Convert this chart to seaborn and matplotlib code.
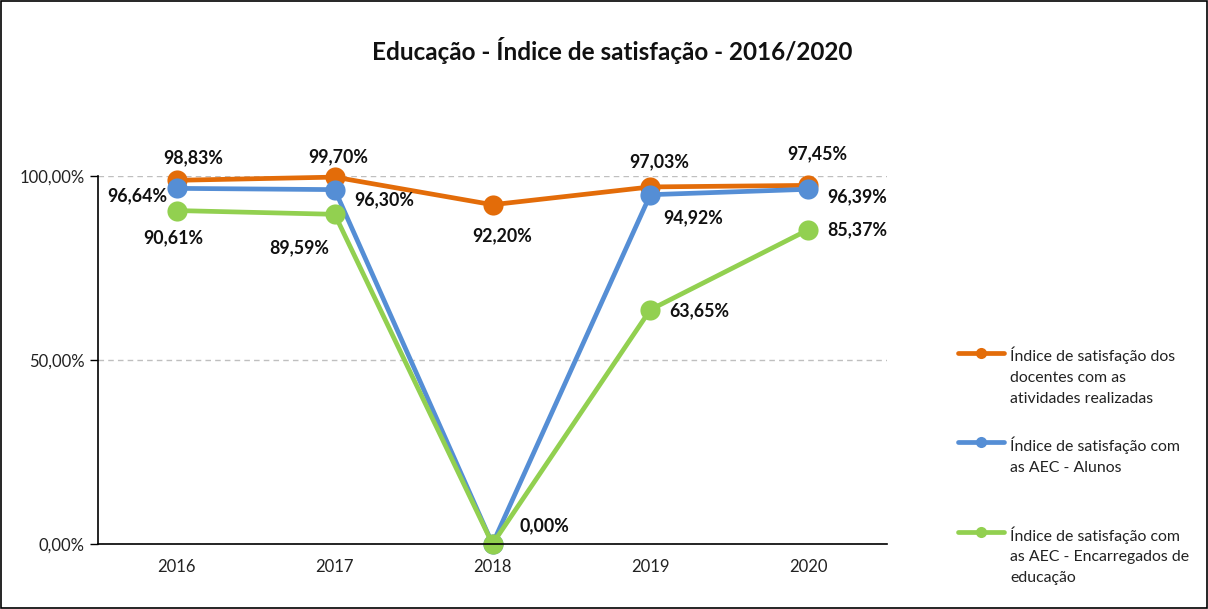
import pandas as pd
import numpy as np
import matplotlib
matplotlib.use("Agg")
import matplotlib.pyplot as plt
import seaborn as sns
from matplotlib.patches import Rectangle

# dados
anos = ["2016", "2017", "2018", "2019", "2020"]
docentes = [98.83, 99.70, 92.20, 97.03, 97.45]
alunos = [96.64, 96.30, 0.00, 94.92, 96.39]
encarregados = [90.61, 89.59, 0.00, 63.65, 85.37]
series_nomes = ["Índice de satisfação dos\ndocentes com as\natividades realizadas",
                "Índice de satisfação com\nas AEC - Alunos",
                "Índice de satisfação com\nas AEC - Encarregados de\neducação"]
cores = ["#E36C09", "#558ED5", "#92D050"]

# posicao dos rotulos (pixels, relativo ao ponto); None = sem rotulo
offs = [
    [(16, 23), (3, 20), (10, -31), (9, 25), (9, 32)],
    [(-40, -7), (49, -10), None, (43, -23), (49, -7)],
    [(-4, -27), (-36, -33), (52, 18), (49, -1), (49, 0)],
]

sns.set_style("white")
plt.rcParams['font.family'] = ['Lato', 'DejaVu Sans']

rows = []
for nome, vals in zip(series_nomes, [docentes, alunos, encarregados]):
    for i, v in enumerate(vals):
        rows.append({"pos": i, "valor": v / 100, "serie": nome})
df = pd.DataFrame(rows)

fig = plt.figure(figsize=(12.08, 6.09), dpi=100)
ax = fig.add_axes([98 / 1208, 65 / 609, 789 / 1208, 368 / 609])

sns.lineplot(data=df, x="pos", y="valor", hue="serie", palette=cores,
             marker="o", markersize=14.5, linewidth=3.4, markeredgewidth=0,
             ax=ax, legend=True)
for ln in ax.lines:
    ln.set_clip_on(False)

# rotulos de dados
for k, vals in enumerate([docentes, alunos, encarregados]):
    for i, v in enumerate(vals):
        if offs[k][i] is None:
            continue
        txt = f"{v:.2f}%".replace(".", ",")
        ax.annotate(txt, (i, v / 100), xytext=offs[k][i], textcoords="offset pixels",
                    ha="center", va="center", fontsize=12.8, fontweight="bold",
                    color="#111111")

ax.set_xlim(-0.5, 4.5)
ax.set_ylim(0, 1.0)
ax.set_xticks(range(5))
ax.set_xticklabels(anos)
ax.set_xticks(np.arange(-0.5, 5, 1), minor=True)
ax.tick_params(axis="x", which="major", length=0, pad=11, labelsize=12, labelcolor="#222222")
ax.tick_params(axis="x", which="minor", length=6, width=1, color="black", direction="out")
ax.set_yticks([0, 0.5, 1.0])
ax.set_yticklabels(["0,00%", "50,00%", "100,00%"])
ax.tick_params(axis="y", length=6, width=1, color="black", direction="out",
               labelsize=12, labelcolor="#222222", left=True)
ax.yaxis.grid(True, linestyle=(0, (4, 3)), color="#BFBFBF", linewidth=1)
ax.xaxis.grid(False)
ax.set_axisbelow(True)
ax.set_xlabel("")
ax.set_ylabel("")
for s in ["top", "right"]:
    ax.spines[s].set_visible(False)
for s in ["left", "bottom"]:
    ax.spines[s].set_color("black")
    ax.spines[s].set_linewidth(1.2)

handles, labels = ax.get_legend_handles_labels()
for h in handles:
    h.set_markersize(8)
# cada entrada ocupa o mesmo espaco (3 linhas)
labels = [l if l.count("\n") == 2 else l + "\n " for l in labels]
leg = ax.legend(handles, labels, loc="upper left", bbox_to_anchor=(958 / 1208, 1 - 347 / 609),
                bbox_transform=fig.transFigure, frameon=False, fontsize=11.4,
                handlelength=2.9, handletextpad=0.4, labelspacing=1.95, labelcolor="#222222",
                borderpad=0, borderaxespad=0)
for t in leg.get_texts():
    t.set_linespacing(1.6)
# marcador da legenda alinhado com a primeira linha do texto
for col in leg._legend_handle_box.get_children():
    for item in col.get_children():
        item.align = "top"

fig.text(612 / 1208, 1 - 50 / 609, "Educação - Índice de satisfação - 2016/2020",
         ha="center", va="center", fontsize=17.5, fontweight="bold", color="#111111")

fig.patches.append(Rectangle((0.001, 0.001), 0.998, 0.997, transform=fig.transFigure,
                             fill=False, edgecolor="black", linewidth=1.2))

plt.savefig("out.png", dpi=100)
